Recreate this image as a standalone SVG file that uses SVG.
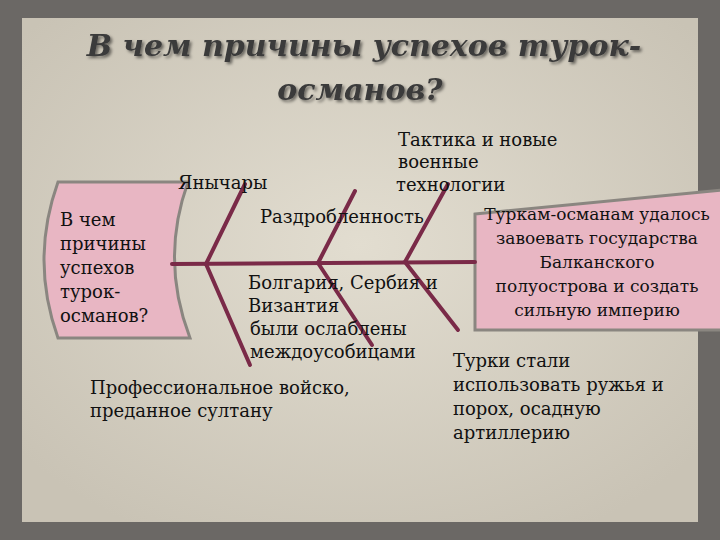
<svg xmlns="http://www.w3.org/2000/svg" width="720" height="540" viewBox="0 0 720 540">
<defs>
<filter id="sh"><feDropShadow dx="2" dy="2" stdDeviation="1.5" flood-color="#000" flood-opacity="0.5"/></filter>
<radialGradient id="paper" cx="50%" cy="45%" r="65%"><stop offset="0" stop-color="#e2ddd0"/><stop offset="1" stop-color="#c9c3b5"/></radialGradient>
</defs>
<style>
.t{font-family:"DejaVu Serif","Liberation Serif",serif;font-size:18px;fill:#111}
.r{font-size:17px}
.ti{font-family:"DejaVu Serif","Liberation Serif",serif;font-size:30px;font-weight:bold;font-style:italic;fill:#3a3a3a;text-anchor:middle}
.b{stroke:#7a2a48;stroke-width:4;fill:none;stroke-linecap:round}
.box{fill:#e8b6c3;stroke:#8a8680;stroke-width:3}
</style>
<rect width="720" height="540" fill="#6b6865"/>
<rect x="22" y="18" width="676" height="504" fill="url(#paper)"/>
<g id="title" filter="url(#sh)">
<text class="ti" x="364" y="56">В чем причины успехов турок-</text>
<text class="ti" x="360" y="100">османов?</text>
</g>
<g id="head">
<path class="box" d="M58,182 L188,182 Q160,260 190,338 L58,338 Q30,260 58,182 Z"/>
<text class="t" x="60" y="226">В чем</text>
<text class="t" x="60" y="250">причины</text>
<text class="t" x="60" y="274">успехов</text>
<text class="t" x="60" y="298">турок-</text>
<text class="t" x="60" y="322">османов?</text>
</g>
<g id="result">
<path class="box" d="M475,214 L722,190 L722,330 L475,330 Z"/>
<g class="t r" text-anchor="middle">
<text x="597" y="220">Туркам-османам удалось</text>
<text x="597" y="244">завоевать государства</text>
<text x="597" y="268">Балканского</text>
<text x="597" y="292">полуострова и создать</text>
<text x="597" y="316">сильную империю</text>
</g>
</g>
<g id="connectors">
<line class="b" x1="172" y1="264" x2="475" y2="262"/>
<line class="b" x1="206" y1="264" x2="245" y2="184"/>
<line class="b" x1="318" y1="263" x2="355" y2="191"/>
<line class="b" x1="405" y1="262" x2="448" y2="184"/>
<line class="b" x1="206" y1="264" x2="250" y2="365"/>
<line class="b" x1="318" y1="263" x2="372" y2="345"/>
<line class="b" x1="405" y1="262" x2="458" y2="330"/>
</g>
<g id="labels" class="t">
<text x="178" y="189">Янычары</text>
<text x="398" y="146">Тактика и новые</text>
<text x="398" y="168"> военные</text>
<text x="396" y="191">технологии</text>
<text x="260" y="223">Раздробленность</text>
<text x="248" y="289">Болгария, Сербия и</text>
<text x="248" y="312">Византия</text>
<text x="250" y="335"> были ослаблены</text>
<text x="250" y="358">междоусобицами</text>
<text x="90" y="394">Профессиональное войско,</text>
<text x="90" y="417"> преданное султану</text>
<text x="453" y="367">Турки стали</text>
<text x="453" y="391">использовать ружья и</text>
<text x="453" y="415">порох, осадную</text>
<text x="453" y="439">артиллерию</text>
</g>
</svg>
